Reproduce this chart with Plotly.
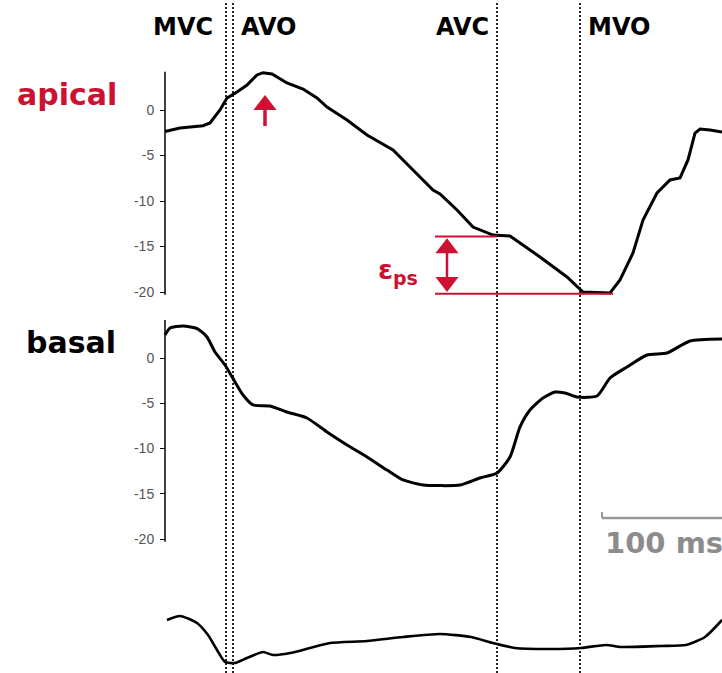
import plotly.graph_objects as go

# ---------------- data (time in ms, strain in %) ----------------
apical_t = [0, 12, 30.4, 36, 44, 49.6, 57.6, 65.6, 73.6, 78.4, 85.6, 97.6, 110.4, 121.6,
            129.6, 145.6, 161.6, 182.4, 198.4, 214.4, 220, 233.6, 246.4, 262.4, 276, 300,
            321.6, 334.4, 356, 364, 374.4, 382.4, 393.6, 404, 412, 418.4, 424, 428, 436, 445.6]
apical_v = [-2.36, -1.98, -1.73, -1.43, 0.0, 1.32, 1.98, 2.75, 3.85, 4.10, 3.96, 2.97, 2.31, 1.32,
            0.33, -1.10, -2.75, -4.40, -6.59, -8.79, -9.23, -10.99, -12.86, -13.74, -13.85, -16.15,
            -18.35, -20.0, -20.1, -18.68, -15.71, -12.09, -9.12, -7.69, -7.47, -5.49, -2.53, -2.09, -2.20, -2.42]

basal_t = [0, 4, 14.4, 26.4, 33.6, 40, 48, 56, 62.4, 70.4, 84, 97.6, 113.6, 129.6, 145.6, 161.6,
           177.6, 190.4, 206.4, 220, 236, 252, 265.6, 276, 284, 292, 302.4, 312, 320, 329.6,
           345.6, 356, 369.6, 385.6, 401.6, 420, 445.6]
basal_v = [2.54, 3.31, 3.54, 3.20, 2.32, 0.66, -0.77, -2.65, -4.09, -5.19, -5.30, -5.97, -6.63,
           -8.18, -9.61, -10.94, -12.38, -13.48, -14.04, -14.1, -14.04, -13.26, -12.71, -10.94,
           -7.62, -5.75, -4.42, -3.76, -3.87, -4.31, -4.20, -2.21, -0.99, 0.33, 0.55, 1.88, 2.10]

third_t = [1.6, 12, 25.6, 34.4, 41.6, 48, 56, 65.6, 78.4, 86.4, 100, 116, 132, 161.6, 190.4,
           220, 244.8, 262.4, 280, 308.8, 332.8, 352.8, 364.8, 396.8, 416.8, 432, 445.6]
third_v = [0.0, 0.44, -0.33, -1.66, -3.31, -4.64, -4.75, -4.20, -3.54, -3.87, -3.65, -3.09, -2.54,
           -2.32, -1.88, -1.55, -1.88, -2.54, -3.09, -3.20, -3.09, -2.76, -2.98, -2.87, -2.76, -1.88, 0.0]

events = ["MVC", "AVO", "AVC", "MVO"]
event_t = [48.8, 54.4, 265.6, 332.0]

strain_ticks = [0, -5, -10, -15, -20]
eps_t = [216.0, 265.6, 358.4, 225.6]   # bracket start, upper end, lower end, arrow position
eps_v = [-13.9, -20.2]                  # upper / lower value of eps_ps
peak_t = 80.0                           # time of apical peak marked by arrow
peak_arrow_v = [-1.76, 0.3, 0.55]       # arrow stem bottom, stem top, head centre
scale_ms = 100
scale_t0 = 349.6

# ---------------- layout helpers ----------------
W, H = 722, 673
RED = "#cc1133"
PX_PER_MS = 1.25
AXIS_PX = 165
APICAL_PPU = 9.1
HEAD = 20


def yrange(zero_px, px_per_unit):
    return [-(H - zero_px) / px_per_unit, zero_px / px_per_unit]


def py(px):
    return 1 - px / H


fig = go.Figure()
fig.add_trace(go.Scatter(x=apical_t, y=apical_v, mode="lines", yaxis="y",
                         line=dict(color="black", width=3), hoverinfo="skip"))
fig.add_trace(go.Scatter(x=basal_t, y=basal_v, mode="lines", yaxis="y2",
                         line=dict(color="black", width=3, shape="spline", smoothing=0.6),
                         hoverinfo="skip"))
fig.add_trace(go.Scatter(x=third_t, y=third_v, mode="lines", yaxis="y3",
                         line=dict(color="black", width=2.6, shape="spline", smoothing=0.6),
                         hoverinfo="skip"))

# red arrow marking apical peak
fig.add_trace(go.Scatter(x=[peak_t, peak_t], y=peak_arrow_v[:2], mode="lines", yaxis="y",
                         line=dict(color=RED, width=3.5), hoverinfo="skip"))
fig.add_trace(go.Scatter(x=[peak_t], y=[peak_arrow_v[2]], mode="markers", yaxis="y",
                         marker=dict(symbol="triangle-up", size=HEAD, color=RED), hoverinfo="skip"))

# eps_ps double arrow
head_r = (HEAD / 2) / APICAL_PPU
fig.add_trace(go.Scatter(x=[eps_t[3], eps_t[3]], y=[eps_v[0] - 0.5, eps_v[1] + 0.5], mode="lines",
                         yaxis="y", line=dict(color=RED, width=2.5), hoverinfo="skip"))
fig.add_trace(go.Scatter(x=[eps_t[3], eps_t[3]], y=[eps_v[0] - 0.2 - head_r, eps_v[1] + 0.2 + head_r],
                         mode="markers", yaxis="y",
                         marker=dict(symbol=["triangle-up", "triangle-down"], size=HEAD, color=RED),
                         hoverinfo="skip"))

shapes = []
# event dotted lines
for t in event_t:
    shapes.append(dict(type="line", xref="x", yref="paper", x0=t, x1=t, y0=0, y1=py(3),
                       line=dict(color="black", width=1.7, dash="2px,2px")))
# y axis lines
shapes.append(dict(type="line", xref="x", yref="y", x0=0, x1=0, y0=-20.3, y1=4.2,
                   line=dict(color="black", width=1.5)))
shapes.append(dict(type="line", xref="x", yref="y2", x0=0, x1=0, y0=-20.3, y1=4.2,
                   line=dict(color="black", width=1.5)))
# eps_ps bracket
shapes.append(dict(type="line", xref="x", yref="y", x0=eps_t[0], x1=eps_t[1], y0=eps_v[0], y1=eps_v[0],
                   line=dict(color=RED, width=2)))
shapes.append(dict(type="line", xref="x", yref="y", x0=eps_t[0], x1=eps_t[2], y0=eps_v[1], y1=eps_v[1],
                   line=dict(color=RED, width=2)))
# scale bar
shapes.append(dict(type="line", xref="x", yref="paper", x0=scale_t0, x1=scale_t0 + scale_ms,
                   y0=py(518), y1=py(518), line=dict(color="#999999", width=2.5)))
shapes.append(dict(type="line", xref="x", yref="paper", x0=scale_t0, x1=scale_t0,
                   y0=py(518), y1=py(512), line=dict(color="#999999", width=2)))

label_font = dict(family="DejaVu Sans", size=24, color="black")
annotations = []
shifts = {"MVC": (-11, "right"), "AVO": (6, "left"), "AVC": (-6, "right"), "MVO": (6, "left")}
for name, t in zip(events, event_t):
    xs, anc = shifts[name]
    annotations.append(dict(x=t, xref="x", y=py(27), yref="paper", text=f"<b>{name}</b>",
                            showarrow=False, xanchor=anc, yanchor="middle", xshift=xs,
                            font=label_font))
annotations.append(dict(x=67 / W, xref="paper", y=py(95), yref="paper", text="<b>apical</b>",
                        showarrow=False, xanchor="center", yanchor="middle",
                        font=dict(family="DejaVu Sans", size=30, color=RED)))
annotations.append(dict(x=71 / W, xref="paper", y=py(342), yref="paper", text="<b>basal</b>",
                        showarrow=False, xanchor="center", yanchor="middle",
                        font=dict(family="DejaVu Sans", size=30, color="black")))
annotations.append(dict(x=376 / W, xref="paper", y=py(271), yref="paper",
                        text="<b>ε<sub>ps</sub></b>", showarrow=False, xanchor="left", yanchor="middle",
                        font=dict(family="DejaVu Sans", size=27, color=RED)))
annotations.append(dict(x=scale_t0, xref="x", y=py(543), yref="paper", text=f"<b>{scale_ms} ms</b>",
                        showarrow=False, xanchor="left", yanchor="middle", xshift=1,
                        font=dict(family="DejaVu Sans", size=29, color="#8c8c8c")))

tick_axis = dict(tickvals=strain_ticks, ticktext=[str(v) for v in strain_ticks],
                 ticks="outside", ticklen=5, tickwidth=1.2, tickcolor="black",
                 showline=False, showgrid=False, zeroline=False, anchor="free",
                 position=AXIS_PX / W, domain=[0, 1], ticklabelstandoff=3,
                 tickfont=dict(family="Liberation Sans, Arial", size=14, color="#555555"))

ya = dict(tick_axis, range=yrange(110, APICAL_PPU))
ya2 = dict(tick_axis, range=yrange(358, 9.05), overlaying="y")

fig.update_layout(
    width=W, height=H, margin=dict(l=0, r=0, t=0, b=0),
    paper_bgcolor="white", plot_bgcolor="white", showlegend=False,
    xaxis=dict(domain=[0, 1], range=[-AXIS_PX / PX_PER_MS, (W - AXIS_PX) / PX_PER_MS], visible=False),
    yaxis=ya, yaxis2=ya2,
    yaxis3=dict(range=yrange(620, 9.05), overlaying="y", visible=False, domain=[0, 1]),
    shapes=shapes, annotations=annotations,
)

fig.write_html("out.html")
